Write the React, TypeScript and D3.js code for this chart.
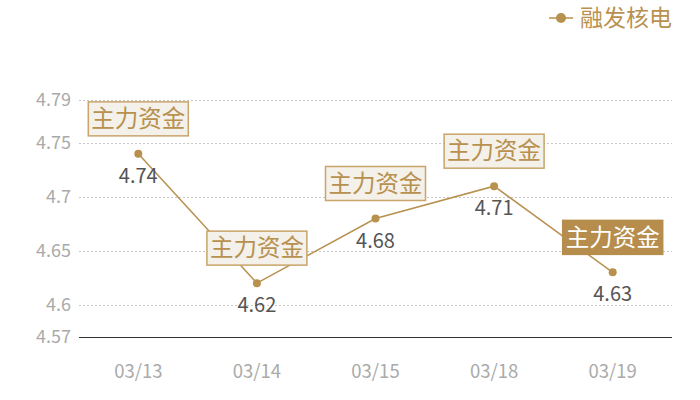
import React from "react";
import * as d3 from "d3";

const dates = ["03/13", "03/14", "03/15", "03/18", "03/19"];
const prices = [4.74, 4.62, 4.68, 4.71, 4.63];
const yTicks = [4.57, 4.6, 4.65, 4.7, 4.75, 4.79];
const markLabel = "主力资金";
const highlighted = [false, false, false, false, true];
const seriesName = "融发核电";

const FONT = "'Noto Sans CJK SC', 'Noto Sans', sans-serif";
const GOLD = "#b8914f";

export default function App() {
    const width = 700;
    const height = 400;
    const margin = { top: 100, right: 28, bottom: 63, left: 79 };

    const x = d3.scalePoint<string>()
        .domain(dates)
        .range([margin.left, width - margin.right])
        .padding(0.5);

    const y = d3.scaleLinear()
        .domain([4.57, 4.79])
        .range([height - margin.bottom, margin.top]);

    const line = d3.line<number>()
        .x((_, i) => x(dates[i]) as number)
        .y(d => y(d));

    const boxW = 100;
    const boxH = 34;

    return (
        <div style={{ position: "absolute", left: 0, top: 0 }}>
            <svg width={width} height={height} style={{ display: "block", fontFamily: FONT }}>
                {/* grid + y ticks */}
                {yTicks.map(t => (
                    <g key={t}>
                        {t !== 4.57 && (
                            <line
                                x1={margin.left}
                                x2={width - margin.right}
                                y1={Math.round(y(t)) + 0.5}
                                y2={Math.round(y(t)) + 0.5}
                                stroke="#c8c8c8"
                                strokeDasharray="2,2"
                            />
                        )}
                        <text
                            x={margin.left - 8}
                            y={y(t)}
                            dy="0.35em"
                            textAnchor="end"
                            fontSize={18}
                            fill="#aaaaaa"
                        >
                            {String(t)}
                        </text>
                    </g>
                ))}
                <line
                    x1={margin.left}
                    x2={width - margin.right}
                    y1={Math.round(y(4.57)) + 0.5}
                    y2={Math.round(y(4.57)) + 0.5}
                    stroke="#333"
                    strokeWidth={1}
                />
                {dates.map(d => (
                    <text
                        key={d}
                        x={x(d)}
                        y={372}
                        dy="0.35em"
                        textAnchor="middle"
                        fontSize={18.5}
                        fill="#aaaaaa"
                    >
                        {d}
                    </text>
                ))}

                {/* series */}
                <path d={line(prices) || ""} fill="none" stroke={GOLD} strokeWidth={1.5} />
                {prices.map((v, i) => (
                    <g key={i}>
                        <circle cx={x(dates[i])} cy={y(v)} r={4} fill={GOLD} />
                        <text
                            x={x(dates[i])}
                            y={y(v) + 22}
                            dy="0.35em"
                            textAnchor="middle"
                            fontSize={20}
                            fill="#555"
                        >
                            {v.toFixed(2)}
                        </text>
                    </g>
                ))}

                {/* annotation boxes */}
                {prices.map((v, i) => {
                    const cx = x(dates[i]) as number;
                    const top = y(v) - 18 - boxH;
                    const hl = highlighted[i];
                    return (
                        <g key={"m" + i}>
                            <rect
                                x={cx - boxW / 2}
                                y={top}
                                width={boxW}
                                height={boxH}
                                fill={hl ? "#b68d4c" : "#f4f0ea"}
                                stroke={hl ? "#b68d4c" : "#c9a46b"}
                                strokeWidth={1.5}
                            />
                            <text
                                x={cx}
                                y={top + boxH / 2}
                                dy="0.35em"
                                textAnchor="middle"
                                fontSize={23.5}
                                fill={hl ? "#ffffff" : GOLD}
                            >
                                {markLabel}
                            </text>
                        </g>
                    );
                })}

                {/* legend */}
                <line x1={549} x2={573} y1={18} y2={18} stroke={GOLD} strokeWidth={1.5} />
                <circle cx={561} cy={18} r={5} fill={GOLD} />
                <text x={580} y={18} dy="0.35em" fontSize={23} fill={GOLD}>
                    {seriesName}
                </text>
            </svg>
        </div>
    );
}
